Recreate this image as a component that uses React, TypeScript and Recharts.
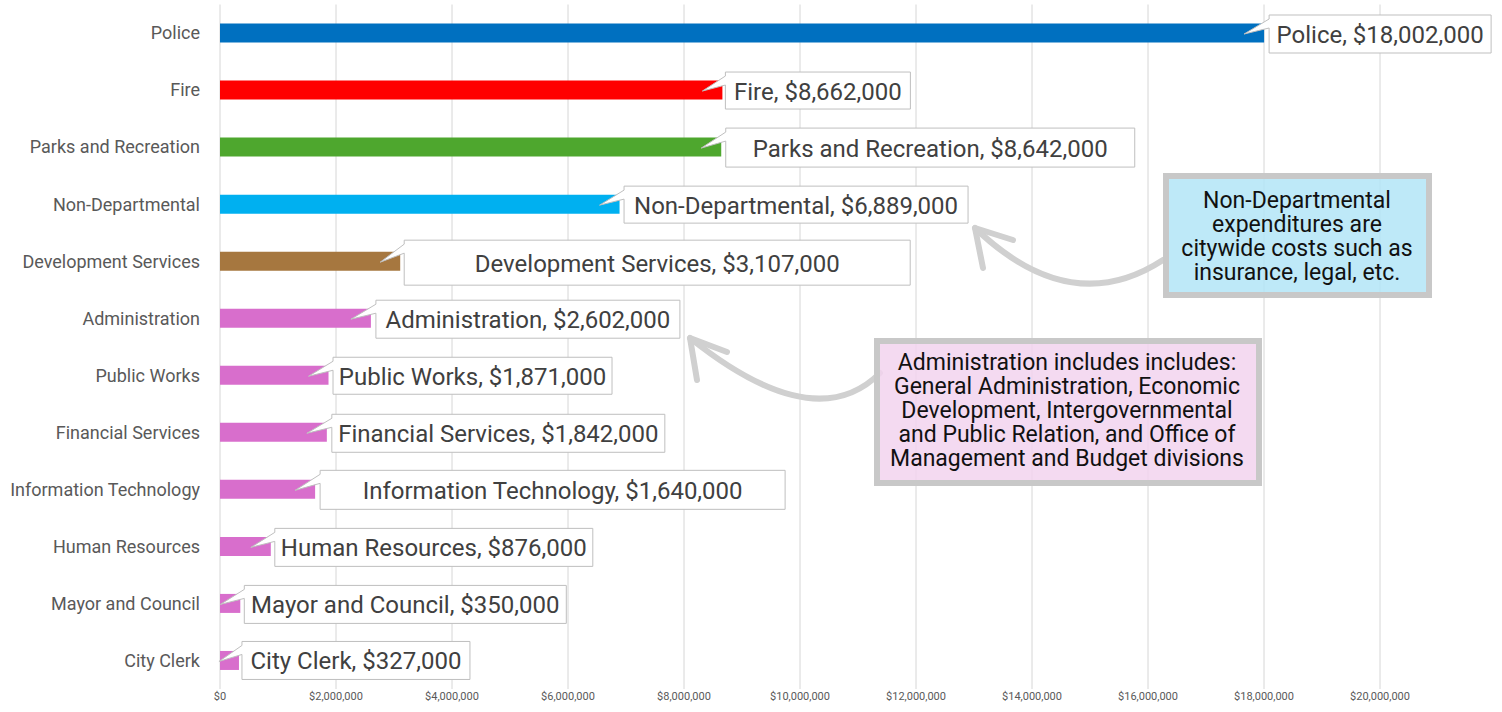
import { BarChart, Bar, XAxis, YAxis, CartesianGrid, Cell, LabelList } from 'recharts'

const departments = [
  'Police',
  'Fire',
  'Parks and Recreation',
  'Non-Departmental',
  'Development Services',
  'Administration',
  'Public Works',
  'Financial Services',
  'Information Technology',
  'Human Resources',
  'Mayor and Council',
  'City Clerk',
]
const budgets = [
  18002000, 8662000, 8642000, 6889000, 3107000, 2602000, 1871000, 1842000, 1640000, 876000, 350000,
  327000,
]
const PINK = '#D86ECC'
const barColors = [
  '#0070C0', '#FF0000', '#4EA72E', '#00B0F0', '#A6773F',
  PINK, PINK, PINK, PINK, PINK, PINK, PINK,
]
const xTicks = [0, 2e6, 4e6, 6e6, 8e6, 10e6, 12e6, 14e6, 16e6, 18e6, 20e6]

const nonDeptNote = ['Non-Departmental', 'expenditures are', 'citywide costs such as', 'insurance, legal, etc.']
const adminNote = [
  'Administration includes includes:',
  'General Administration, Economic',
  'Development, Intergovernmental',
  'and Public Relation, and Office of',
  'Management and Budget divisions',
]

// where each callout box sits, measured from the end of its bar
const callouts = [
  { dx: 5, dy: 1, w: 222, h: 38 },
  { dx: 3, dy: 0.5, w: 185, h: 37 },
  { dx: 4.5, dy: 0.5, w: 409, h: 39 },
  { dx: 4.5, dy: 0.5, w: 344, h: 37 },
  { dx: 4, dy: 1.5, w: 506, h: 45 },
  { dx: 5, dy: 1, w: 304, h: 38 },
  { dx: 4.5, dy: 0.5, w: 279, h: 37 },
  { dx: 5, dy: 1, w: 333, h: 38 },
  { dx: 5, dy: 0.5, w: 465, h: 39 },
  { dx: 4, dy: 1, w: 318, h: 38 },
  { dx: 4, dy: 1, w: 322, h: 38 },
  { dx: 3, dy: 0, w: 228, h: 38 },
]

const data = departments.map((name, i) => ({ name, value: budgets[i] }))

const money = (v: number) => '$' + v.toLocaleString('en-US')

const FONT = 'Roboto, "Open Sans", sans-serif'

const Callout = (props: any) => {
  const { x, y, width, height, value } = props
  const index = props.index ?? budgets.indexOf(value)
  const c = callouts[index]
  if (!c) return null
  const end = x + width
  const cy = y + height / 2
  const left = end + c.dx
  const top = cy + c.dy - c.h / 2
  const right = left + c.w
  const bottom = top + c.h
  const d = `M${left},${top} H${right} V${bottom} H${left} V${top + 13} L${end - 20},${cy + 1} L${left},${top + 4} Z`
  return (
    <g>
      <path d={d} fill="#fff" stroke="#BFBFBF" strokeWidth={1} />
      <text
        x={left + c.w / 2}
        y={top + c.h / 2 + 1}
        textAnchor="middle"
        dominantBaseline="central"
        fontSize={24}
        fill="#404040"
        fontFamily={FONT}
      >
        {`${departments[index]}, ${money(value)}`}
      </text>
    </g>
  )
}

const Notes = () => (
  <svg
    width={1502}
    height={712}
    style={{ position: 'absolute', left: 0, top: 0, pointerEvents: 'none' }}
  >
    <g fill="none" stroke="#D0D0D0" strokeWidth={6} strokeLinecap="round" strokeLinejoin="round">
      <path d="M1163,260 Q1071,320 975,228" />
      <path d="M1013,240 L975,228 L983,268" />
      <path d="M880,373 Q815,438 690,338" />
      <path d="M727,352 L690,338 L697,380" />
    </g>
    <rect x={1166} y={176} width={263} height={119} fill="#B3E5F7" fillOpacity={0.85} stroke="#C8C8C8" strokeWidth={6} />
    {nonDeptNote.map((line, i) => (
      <text key={line} x={1297} y={200 + i * 24} textAnchor="middle" dominantBaseline="central" fontSize={23} fill="#111" fontFamily={FONT}>
        {line}
      </text>
    ))}
    <rect x={877} y={341} width={382} height={142} fill="#F2D4EE" fillOpacity={0.85} stroke="#C8C8C8" strokeWidth={6} />
    {adminNote.map((line, i) => (
      <text key={line} x={1067} y={362 + i * 24} textAnchor="middle" dominantBaseline="central" fontSize={23} fill="#111" fontFamily={FONT}>
        {line}
      </text>
    ))}
  </svg>
)

export default function App() {
  return (
    <div style={{ position: 'absolute', left: 0, top: 0, width: 1502, height: 712, background: '#fff' }}>
      <BarChart
        width={1502}
        height={712}
        data={data}
        layout="vertical"
        margin={{ top: 4.5, right: 122, bottom: 3, left: 0 }}
      >
        <CartesianGrid horizontal={false} stroke="#D6D6D6" />
        <XAxis
          type="number"
          domain={[0, 20000000]}
          ticks={xTicks}
          tickFormatter={money}
          axisLine={false}
          tickLine={false}
          tickSize={0}
          tickMargin={3}
          height={20}
          interval={0}
          tick={{ fontSize: 11, fill: '#595959', fontFamily: FONT }}
        />
        <YAxis
          type="category"
          dataKey="name"
          width={220}
          axisLine={false}
          tickLine={false}
          tickSize={0}
          tickMargin={20}
          interval={0}
          tick={{ fontSize: 18, fill: '#595959', fontFamily: FONT }}
        />
        <Bar dataKey="value" barSize={19} isAnimationActive={false}>
          {data.map((d, i) => (
            <Cell key={d.name} fill={barColors[i]} />
          ))}
          <LabelList dataKey="value" content={Callout} />
        </Bar>
      </BarChart>
      <Notes />
    </div>
  )
}
